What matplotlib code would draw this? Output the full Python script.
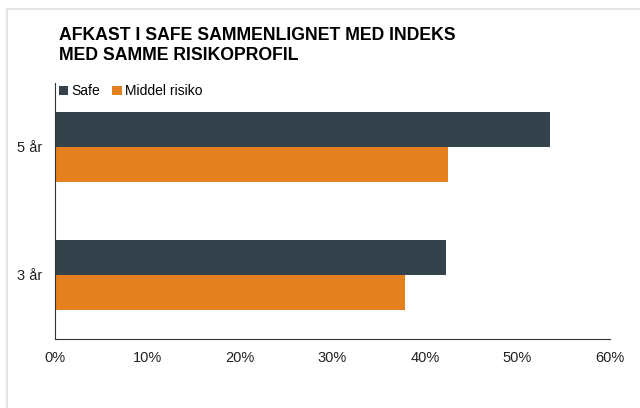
import matplotlib.pyplot as plt
import matplotlib.patches as mpatches
import numpy as np
from matplotlib.ticker import FuncFormatter

plt.rcParams['font.family'] = ['Liberation Sans', 'DejaVu Sans']

# data
categories = ['3 år', '5 år']
safe = [42.3, 53.5]
middel = [37.8, 42.5]
series_names = ['Safe', 'Middel risiko']
colors = ['#34424b', '#e5801f']

fig = plt.figure(figsize=(6.4, 4.08), dpi=100)

# light grey frame around the chart area
fig.patches.append(mpatches.Rectangle((7/640, -0.05), 1.0, (408-9)/408 + 0.05,
                                      transform=fig.transFigure, fill=False,
                                      edgecolor='#e4e4e4', linewidth=1.5))

ax = fig.add_axes([55/640, (408-339)/408, (610-55)/640, (339-83)/408])

y = np.arange(len(categories))
h = 0.27
ax.barh(y + h/2, safe, height=h, color=colors[0], label=series_names[0])
ax.barh(y - h/2, middel, height=h, color=colors[1], label=series_names[1])

ax.set_xlim(0, 60)
ax.set_ylim(-0.5, 1.5)
ax.set_xticks(np.arange(0, 61, 10))
ax.xaxis.set_major_formatter(FuncFormatter(lambda v, p: '%d%%' % v))
ax.set_yticks(y)
ax.set_yticklabels(categories)
ax.tick_params(axis='both', length=0, labelsize=10.5, colors='#222222')
ax.tick_params(axis='y', pad=9)
ax.tick_params(axis='x', pad=9)

for s in ['top', 'right']:
    ax.spines[s].set_visible(False)
ax.spines['left'].set_color('#333333')
ax.spines['bottom'].set_color('#333333')

fig.text(59/640, 1 - 27/408, 'AFKAST I SAFE SAMMENLIGNET MED INDEKS\nMED SAMME RISIKOPROFIL',
         fontsize=12.7, fontweight='bold', va='top', ha='left', linespacing=1.2)

fig.legend(loc='upper left', bbox_to_anchor=(49/640, 1 - 74.5/408), ncol=2,
           frameon=False, fontsize=10, handlelength=0.65, handleheight=0.65,
           handletextpad=0.25, columnspacing=0.9, borderpad=0.2)

fig.savefig('out.png', dpi=100)
